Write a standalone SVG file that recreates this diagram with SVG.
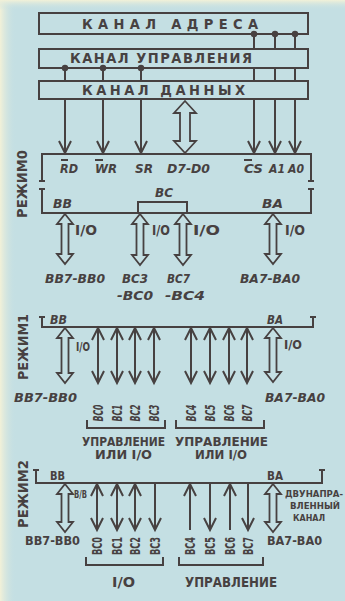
<svg xmlns="http://www.w3.org/2000/svg" width="345" height="601" viewBox="0 0 345 601">
<defs>
<linearGradient id="lg" x1="0" x2="1" y1="0" y2="0"><stop offset="0" stop-color="#f2f1d8"/><stop offset="1" stop-color="#c4dfe3" stop-opacity="0"/></linearGradient>
<linearGradient id="tg" x1="0" x2="0" y1="0" y2="1"><stop offset="0" stop-color="#f2f1d8"/><stop offset="1" stop-color="#c4dfe3" stop-opacity="0"/></linearGradient>
<marker id="ah" viewBox="-15 -9 18 18" markerWidth="18" markerHeight="18" refX="0" refY="0" orient="auto-start-reverse" markerUnits="userSpaceOnUse"><path d="M-12,-6 L0,0 L-12,6" fill="none" stroke="#474141" stroke-width="2"/></marker>
<style>
.ln{stroke:#474141;stroke-width:2;fill:none}
.bx{stroke:#474141;stroke-width:2;fill:#c4dfe3}
.ha{stroke:#474141;stroke-width:1.8;fill:#c4dfe3}
.ar{stroke:#474141;stroke-width:2;fill:none;marker-end:url(#ah)}
.da{stroke:#474141;stroke-width:2;fill:none;marker-start:url(#ah);marker-end:url(#ah)}
.ua{stroke:#474141;stroke-width:2;fill:none;marker-start:url(#ah)}
.t{font-family:"DejaVu Sans Condensed","DejaVu Sans",sans-serif;font-weight:bold;fill:#474141}
.i{font-style:italic}
.dot{fill:#474141}
</style>
</defs>
<rect width="345" height="601" fill="#c4dfe3"/>
<rect width="16" height="601" fill="url(#lg)"/>
<rect width="345" height="10" fill="url(#tg)"/>

<g id="connectors">
  <line class="ar" x1="254" y1="34" x2="254" y2="153"/>
  <line class="ar" x1="275" y1="34" x2="275" y2="153"/>
  <line class="ar" x1="295" y1="34" x2="295" y2="153"/>
  <line class="ar" x1="65" y1="68" x2="65" y2="153"/>
  <line class="ar" x1="103" y1="68" x2="103" y2="153"/>
  <line class="ar" x1="141" y1="68" x2="141" y2="153"/>
</g>

<g id="bus-address">
  <rect class="bx" x="39" y="13" width="269" height="21"/>
  <text class="t" x="82" y="29" font-size="14.5" textLength="176" lengthAdjust="spacing">КАНАЛ  АДРЕСА</text>
  <circle class="dot" cx="254" cy="34" r="3.2"/><circle class="dot" cx="275" cy="34" r="3.2"/><circle class="dot" cx="295" cy="34" r="3.2"/>
</g>
<g id="bus-control">
  <rect class="bx" x="39" y="49" width="269" height="19"/>
  <text class="t" x="70" y="63" font-size="14.5" textLength="182" lengthAdjust="spacing">КАНАЛ УПРАВЛЕНИЯ</text>
  <circle class="dot" cx="65" cy="68" r="3.2"/><circle class="dot" cx="103" cy="68" r="3.2"/><circle class="dot" cx="141" cy="68" r="3.2"/>
</g>
<g id="bus-data">
  <rect class="bx" x="39" y="81" width="269" height="18"/>
  <text class="t" x="82" y="95" font-size="14.5" textLength="163" lengthAdjust="spacing">КАНАЛ ДАННЫХ</text>
</g>

<g id="data-arrow">
  <polygon class="ha" points="185,101 196,113 190,113 190,141 196,141 185,153 174,141 180,141 180,113 174,113"/>
</g>

<g id="mode0">
  <path class="ln" d="M42,181 V154 H311 V181 M39,181 H45 M308,181 H314"/>
  <path class="ln" d="M39,189 H45 M42,189 V213 H311 V189 M308,189 H314"/>
  <path class="ln" d="M138,213 V202 H187 V213"/>
  <text class="t" transform="translate(27,184) rotate(-90)" font-size="14" text-anchor="middle" textLength="68" lengthAdjust="spacingAndGlyphs">РЕЖИМ0</text>
  <g class="t i" font-size="13">
    <text x="60" y="173" textLength="18" lengthAdjust="spacingAndGlyphs">RD</text>
    <text x="95" y="173" textLength="22" lengthAdjust="spacingAndGlyphs">WR</text>
    <text x="135" y="173" textLength="18" lengthAdjust="spacingAndGlyphs">SR</text>
    <text x="167" y="173" textLength="43" lengthAdjust="spacingAndGlyphs">D7-D0</text>
    <text x="244" y="173" textLength="19" lengthAdjust="spacingAndGlyphs">CS</text>
    <text x="269" y="173" textLength="16" lengthAdjust="spacingAndGlyphs">A1</text>
    <text x="288" y="173" textLength="16" lengthAdjust="spacingAndGlyphs">A0</text>
    <text x="53" y="208" textLength="19" lengthAdjust="spacingAndGlyphs">BB</text>
    <text x="155" y="197" textLength="18" lengthAdjust="spacingAndGlyphs">BC</text>
    <text x="262" y="208" textLength="21" lengthAdjust="spacingAndGlyphs">BA</text>
  </g>
  <path class="ln" d="M61,160 H68 M95,160 H103 M244,160 H252" stroke-width="1.5"/>
</g>

<g id="mode0-ports">
  <polygon class="ha" points="65,214 73,224 68.5,224 68.5,254 73,254 65,264 57,254 61.5,254 61.5,224 57,224"/>
  <polygon class="ha" points="140,214 148,224 143.5,224 143.5,255 148,255 140,265 132,255 136.5,255 136.5,224 132,224"/>
  <polygon class="ha" points="183,214 191,224 186.5,224 186.5,255 191,255 183,265 175,255 179.5,255 179.5,224 175,224"/>
  <polygon class="ha" points="273,214 281,224 276.5,224 276.5,254 281,254 273,264 265,254 269.5,254 269.5,224 265,224"/>
  <g class="t" font-size="14">
    <text x="75" y="235" textLength="22" lengthAdjust="spacingAndGlyphs">I/O</text>
    <text x="152" y="235" textLength="18" lengthAdjust="spacingAndGlyphs">I/O</text>
    <text x="193" y="235" textLength="27" lengthAdjust="spacingAndGlyphs">I/O</text>
    <text x="285" y="235" textLength="20" lengthAdjust="spacingAndGlyphs">I/O</text>
  </g>
  <g class="t i" font-size="13">
    <text x="45" y="283" textLength="60" lengthAdjust="spacingAndGlyphs">BB7-BB0</text>
    <text x="122" y="283" textLength="26" lengthAdjust="spacingAndGlyphs">BC3</text>
    <text x="117" y="300" textLength="36" lengthAdjust="spacingAndGlyphs">-BC0</text>
    <text x="167" y="283" textLength="23" lengthAdjust="spacingAndGlyphs">BC7</text>
    <text x="165" y="300" textLength="40" lengthAdjust="spacingAndGlyphs">-BC4</text>
    <text x="240" y="283" textLength="60" lengthAdjust="spacingAndGlyphs">BA7-BA0</text>
  </g>
</g>

<g id="mode1">
  <path class="ln" d="M39,317 H45 M42,317 V327 H313 V317 M310,317 H316"/>
  <text class="t" transform="translate(28,347) rotate(-90)" font-size="14" text-anchor="middle" textLength="66" lengthAdjust="spacingAndGlyphs">РЕЖИМ1</text>
  <g class="t i" font-size="13">
    <text x="50" y="324" textLength="17" lengthAdjust="spacingAndGlyphs">BB</text>
    <text x="267" y="324" textLength="16" lengthAdjust="spacingAndGlyphs">BA</text>
  </g>
  <polygon class="ha" points="65,328 73,338 68.5,338 68.5,373 73,373 65,383 57,373 61.5,373 61.5,338 57,338"/>
  <polygon class="ha" points="273,328 281,338 276.5,338 276.5,372 281,372 273,382 265,372 269.5,372 269.5,338 265,338"/>
  <line class="da" x1="98" y1="328" x2="98" y2="383"/>
  <line class="da" x1="117" y1="328" x2="117" y2="383"/>
  <line class="da" x1="135" y1="328" x2="135" y2="383"/>
  <line class="da" x1="154" y1="328" x2="154" y2="383"/>
  <line class="da" x1="191" y1="328" x2="191" y2="383"/>
  <line class="da" x1="210" y1="328" x2="210" y2="383"/>
  <line class="da" x1="229" y1="328" x2="229" y2="383"/>
  <line class="da" x1="247" y1="328" x2="247" y2="383"/>
  <g class="t" font-size="12">
    <text x="76" y="351" textLength="14" lengthAdjust="spacingAndGlyphs">I/O</text>
    <text x="284" y="349" textLength="18" lengthAdjust="spacingAndGlyphs">I/O</text>
  </g>
  <g class="t i" font-size="13">
    <text x="14" y="402" textLength="63" lengthAdjust="spacingAndGlyphs">BB7-BB0</text>
    <text x="265" y="402" textLength="60" lengthAdjust="spacingAndGlyphs">BA7-BA0</text>
  </g>
  <g class="t i" font-size="14" text-anchor="middle">
    <text transform="translate(103,413) rotate(-90)" textLength="17" lengthAdjust="spacingAndGlyphs">BC0</text>
    <text transform="translate(122,413) rotate(-90)" textLength="17" lengthAdjust="spacingAndGlyphs">BC1</text>
    <text transform="translate(140,413) rotate(-90)" textLength="17" lengthAdjust="spacingAndGlyphs">BC2</text>
    <text transform="translate(159,413) rotate(-90)" textLength="17" lengthAdjust="spacingAndGlyphs">BC3</text>
    <text transform="translate(196,413) rotate(-90)" textLength="17" lengthAdjust="spacingAndGlyphs">BC4</text>
    <text transform="translate(215,413) rotate(-90)" textLength="17" lengthAdjust="spacingAndGlyphs">BC5</text>
    <text transform="translate(234,413) rotate(-90)" textLength="17" lengthAdjust="spacingAndGlyphs">BC6</text>
    <text transform="translate(252,413) rotate(-90)" textLength="17" lengthAdjust="spacingAndGlyphs">BC7</text>
  </g>
  <path class="ln" d="M87,420 V428 H165 V420 M176,420 V428 H264 V420"/>
  <g class="t" font-size="12">
    <text x="82" y="446" textLength="83" lengthAdjust="spacingAndGlyphs">УПРАВЛЕНИЕ</text>
    <text x="95" y="459" textLength="57" lengthAdjust="spacingAndGlyphs">ИЛИ I/O</text>
    <text x="175" y="446" textLength="93" lengthAdjust="spacingAndGlyphs">УПРАВЛЕНИЕ</text>
    <text x="195" y="459" textLength="52" lengthAdjust="spacingAndGlyphs">ИЛИ I/O</text>
  </g>
</g>

<g id="mode2">
  <path class="ln" d="M33,470 H39 M36,470 V483 H322 V470 M319,470 H325"/>
  <text class="t" transform="translate(28,494) rotate(-90)" font-size="14" text-anchor="middle" textLength="68" lengthAdjust="spacingAndGlyphs">РЕЖИМ2</text>
  <g class="t" font-size="12">
    <text x="50" y="480" textLength="15" lengthAdjust="spacingAndGlyphs">BB</text>
    <text x="267" y="480" textLength="16" lengthAdjust="spacingAndGlyphs">BA</text>
    <text x="74" y="498" font-size="10" textLength="13" lengthAdjust="spacingAndGlyphs">B/B</text>
  </g>
  <polygon class="ha" points="65,484 73,494 68.5,494 68.5,522 73,522 65,532 57,522 61.5,522 61.5,494 57,494"/>
  <polygon class="ha" points="273,484 281,494 276.5,494 276.5,522 281,522 273,532 265,522 269.5,522 269.5,494 265,494"/>
  <line class="da" x1="97" y1="484" x2="97" y2="530"/>
  <line class="da" x1="117" y1="484" x2="117" y2="530"/>
  <line class="da" x1="135" y1="484" x2="135" y2="530"/>
  <line class="ar" x1="155" y1="484" x2="155" y2="530"/>
  <line class="ua" x1="190" y1="484" x2="190" y2="530"/>
  <line class="ar" x1="210" y1="484" x2="210" y2="530"/>
  <line class="ua" x1="230" y1="484" x2="230" y2="530"/>
  <line class="ar" x1="248" y1="484" x2="248" y2="530"/>
  <g class="t" font-size="9">
    <text x="285" y="497" textLength="58" lengthAdjust="spacingAndGlyphs">ДВУНАПРА-</text>
    <text x="290" y="509" textLength="50" lengthAdjust="spacingAndGlyphs">ВЛЕННЫЙ</text>
    <text x="293" y="521" textLength="32" lengthAdjust="spacingAndGlyphs">КАНАЛ</text>
  </g>
  <g class="t" font-size="12">
    <text x="25" y="545" textLength="55" lengthAdjust="spacingAndGlyphs">BB7-BB0</text>
    <text x="267" y="545" textLength="55" lengthAdjust="spacingAndGlyphs">BA7-BA0</text>
  </g>
  <g class="t" font-size="14" text-anchor="middle">
    <text transform="translate(102,546) rotate(-90)" textLength="18" lengthAdjust="spacingAndGlyphs">BC0</text>
    <text transform="translate(122,546) rotate(-90)" textLength="18" lengthAdjust="spacingAndGlyphs">BC1</text>
    <text transform="translate(140,546) rotate(-90)" textLength="18" lengthAdjust="spacingAndGlyphs">BC2</text>
    <text transform="translate(160,546) rotate(-90)" textLength="18" lengthAdjust="spacingAndGlyphs">BC3</text>
    <text transform="translate(195,546) rotate(-90)" textLength="18" lengthAdjust="spacingAndGlyphs">BC4</text>
    <text transform="translate(215,546) rotate(-90)" textLength="18" lengthAdjust="spacingAndGlyphs">BC5</text>
    <text transform="translate(235,546) rotate(-90)" textLength="18" lengthAdjust="spacingAndGlyphs">BC6</text>
    <text transform="translate(253,546) rotate(-90)" textLength="18" lengthAdjust="spacingAndGlyphs">BC7</text>
  </g>
  <path class="ln" d="M86,557 V565 H163 V557 M179,557 V565 H263 V557"/>
  <g class="t" font-size="14">
    <text x="112" y="587" textLength="23" lengthAdjust="spacingAndGlyphs">I/O</text>
    <text x="185" y="587" textLength="92" lengthAdjust="spacingAndGlyphs">УПРАВЛЕНИЕ</text>
  </g>
</g>
</svg>
